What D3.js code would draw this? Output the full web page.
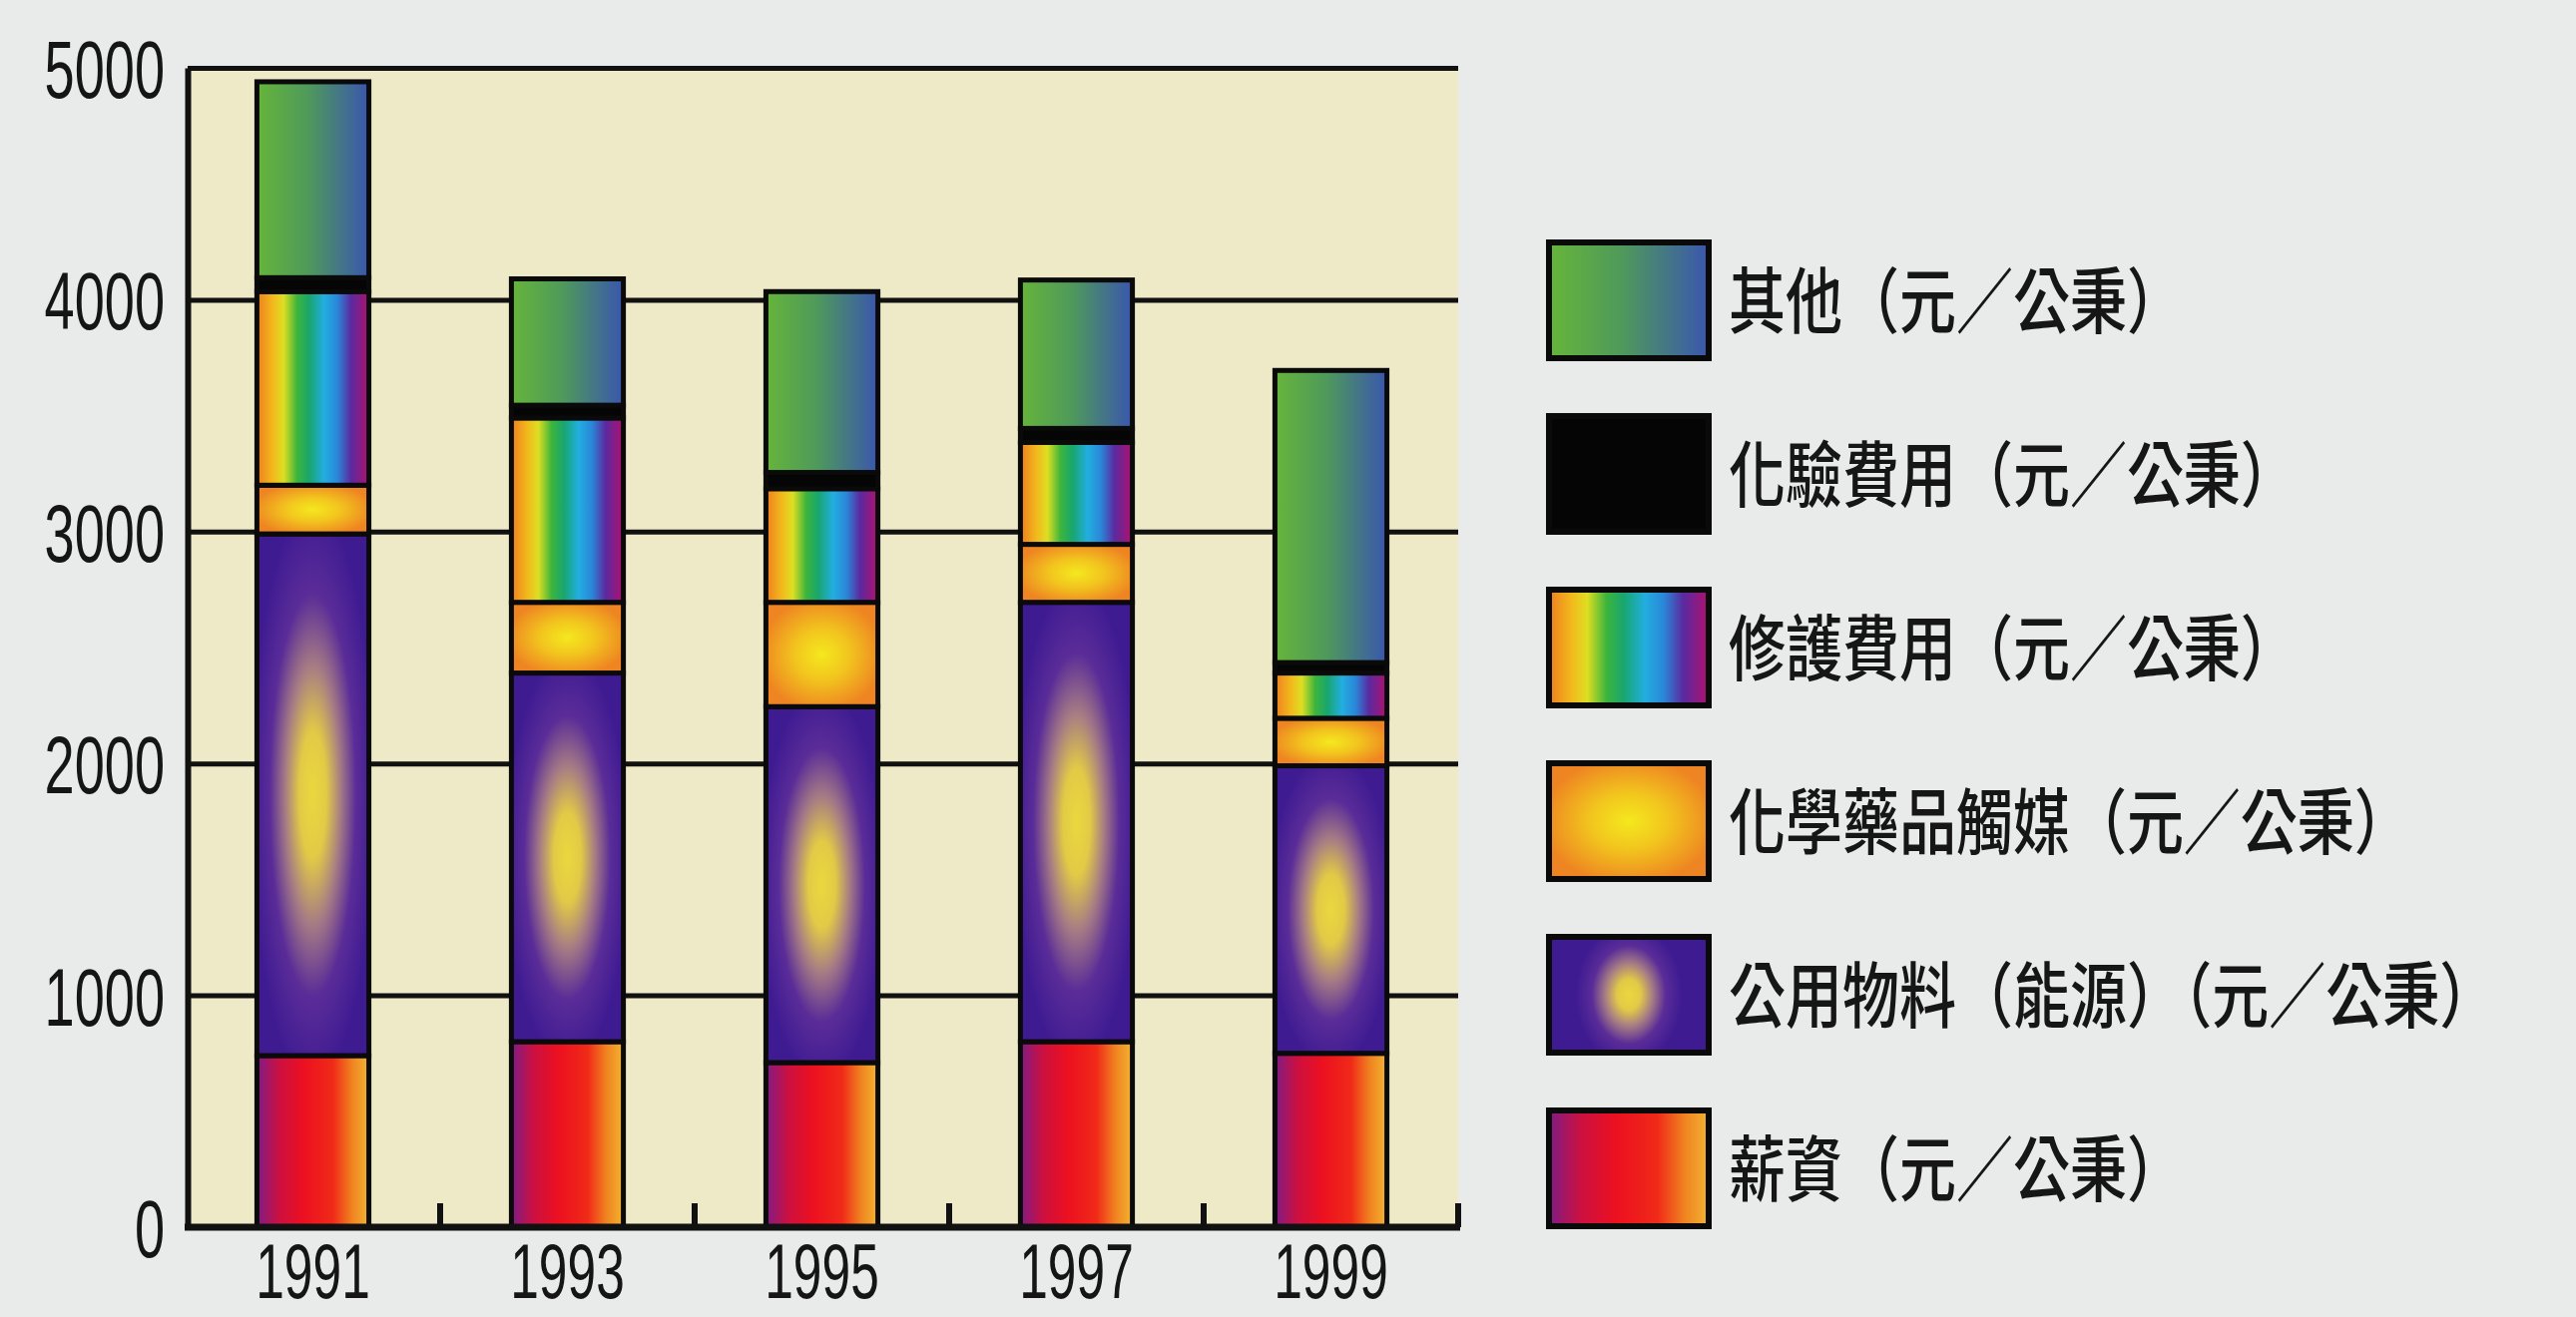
<!DOCTYPE html>
<html>
<head>
<meta charset="utf-8">
<script src="https://cdn.jsdelivr.net/npm/d3@7"></script>
<style>
  html, body { margin: 0; padding: 0; background: #e9ebeb; }
  svg { display: block; }
</style>
</head>
<body>
<div id="container"></div>
<script>
'use strict'
// data (元/公秉)
const years = ["1991", "1993", "1995", "1997", "1999"];
const keys = ["salary", "utility", "chem", "repair", "lab", "other"];
const labels = {
  salary:  "薪資（元／公秉）",
  utility: "公用物料（能源）（元／公秉）",
  chem:    "化學藥品觸媒（元／公秉）",
  repair:  "修護費用（元／公秉）",
  lab:     "化驗費用（元／公秉）",
  other:   "其他（元／公秉）"
};
const salary  = [740, 800, 710, 800, 750];
const utility = [2250, 1590, 1535, 1895, 1240];
const chem    = [210, 305, 450, 250, 205];
const repair  = [835, 795, 490, 440, 195];
const lab     = [60, 55, 70, 60, 45];
const other   = [845, 545, 780, 640, 1260];
const yTicks  = [0, 1000, 2000, 3000, 4000, 5000];

const values = { salary, utility, chem, repair, lab, other };
const table = years.map((y, i) => {
  const row = { year: y };
  keys.forEach(k => row[k] = values[k][i]);
  return row;
});

const w = 2581, h = 1320;
const pLeft = 188, pRight = 1461, pTop = 68, pBottom = 1230;

const svg = d3.select("#container").append("svg")
  .attr("width", w).attr("height", h);

// gradients
const defs = svg.append("defs");
function linear(id, stops) {
  const g = defs.append("linearGradient").attr("id", id)
    .attr("x1", "0%").attr("x2", "100%").attr("y1", "0%").attr("y2", "0%");
  stops.forEach(s => g.append("stop").attr("offset", s[0]).attr("stop-color", s[1]));
}
function radial(id, stops, tf) {
  const g = defs.append("radialGradient").attr("id", id)
    .attr("cx", "50%").attr("cy", "50%").attr("r", "55%");
  if (tf) g.attr("gradientTransform", tf);
  stops.forEach(s => g.append("stop").attr("offset", s[0]).attr("stop-color", s[1]));
}
const utilStops = [[0, "#ead83e"], [0.22, "#e2ca46"], [0.45, "#a67c84"], [0.7, "#5a2c98"], [1, "#3f1b92"]];
linear("g-other", [[0, "#66b53a"], [0.45, "#4f9a5a"], [1, "#3a56ae"]]);
linear("g-repair", [[0, "#ee7e20"], [0.14, "#f2b81c"], [0.24, "#dede22"], [0.36, "#3cb43c"],
                    [0.47, "#18a670"], [0.6, "#22aee0"], [0.72, "#2a86d8"], [0.84, "#5a2aa0"], [1, "#b0106e"]]);
radial("g-chem", [[0, "#f4e81e"], [0.45, "#f2c41e"], [1, "#ee8422"]]);
radial("g-utility", utilStops);
radial("g-utility-lg", utilStops, "translate(0.5,0.5) scale(0.6,1.1) translate(-0.5,-0.5)");
linear("g-salary", [[0, "#7e1c86"], [0.2, "#cc1040"], [0.42, "#ec1020"], [0.68, "#f02a18"], [0.85, "#f08420"], [1, "#f2b432"]]);
const fills = {
  salary: "url(#g-salary)", utility: "url(#g-utility)", chem: "url(#g-chem)",
  repair: "url(#g-repair)", lab: "#050505", other: "url(#g-other)"
};

// scales
const x = d3.scaleBand().domain(years).range([186, 1461]).paddingInner(0.56).paddingOuter(0.28);
const y = d3.scaleLinear().domain([0, 5000]).range([pBottom, pTop]);

// plot background
svg.append("rect").attr("x", pLeft).attr("y", pTop)
  .attr("width", pRight - pLeft).attr("height", pBottom - pTop).attr("fill", "#eee9c6");

// gridlines + y labels
const sx = 0.66;
const yAxis = svg.append("g").attr("transform", "translate(" + pLeft + ",0)")
  .call(d3.axisLeft(y).tickValues(yTicks).tickFormat(d3.format("d"))
    .tickSize(-(pRight - pLeft)).tickSizeOuter(0).tickPadding(23));
yAxis.selectAll("line").attr("stroke", "#111").attr("stroke-width", 5);
yAxis.select(".domain").attr("stroke", "#111").attr("stroke-width", 6);
yAxis.selectAll("text")
  .attr("x", -23 / sx).attr("dy", "0.36em")
  .attr("transform", "scale(" + sx + ",1)")
  .style("font-family", "'Liberation Sans', Arial, sans-serif")
  .style("font-size", "82px").attr("fill", "#151515");

// stacked bars
const stacked = d3.stack().keys(keys)(table);
svg.append("g").selectAll("g")
  .data(stacked).enter().append("g")
  .attr("fill", d => fills[d.key])
  .selectAll("rect")
  .data(d => d).enter().append("rect")
  .attr("x", d => x(d.data.year))
  .attr("width", x.bandwidth())
  .attr("y", d => y(d[1]))
  .attr("height", d => y(d[0]) - y(d[1]))
  .attr("stroke", "#0a0a0a").attr("stroke-width", 5);

// bottom axis with year labels
const xAxis = svg.append("g").attr("transform", "translate(0," + pBottom + ")")
  .call(d3.axisBottom(x).tickSize(0).tickSizeOuter(0).tickPadding(16));
xAxis.select(".domain").remove();
xAxis.selectAll("text")
  .attr("transform", "scale(" + sx + ",1)")
  .style("font-family", "'Liberation Sans', Arial, sans-serif")
  .style("font-size", "78px").attr("fill", "#151515");

svg.append("line").attr("x1", pLeft - 3).attr("x2", pRight + 2)
  .attr("y1", pBottom).attr("y2", pBottom)
  .attr("stroke", "#111").attr("stroke-width", 7);

// small ticks between the bars
const gap = x.step() * x.paddingInner() / 2;
svg.append("g").selectAll("line")
  .data(years).enter().append("line")
  .attr("x1", d => x(d) + x.bandwidth() + gap)
  .attr("x2", d => x(d) + x.bandwidth() + gap)
  .attr("y1", pBottom).attr("y2", pBottom - 24)
  .attr("stroke", "#111").attr("stroke-width", 6);

// legend
const legendKeys = keys.slice().reverse();
const lg = svg.append("g").selectAll("g")
  .data(legendKeys).enter().append("g")
  .attr("transform", (d, i) => "translate(1552," + (243 + i * 174) + ")");
lg.append("rect").attr("width", 160).attr("height", 116)
  .attr("fill", d => d === "utility" ? "url(#g-utility-lg)" : fills[d])
  .attr("stroke", "#0a0a0a").attr("stroke-width", 6);
lg.append("text")
  .attr("transform", "translate(180,58) scale(1,1.25)")
  .attr("dy", "0.38em")
  .style("font-family", "'Noto Sans CJK TC', 'Noto Sans CJK SC', sans-serif")
  .style("font-size", "57px").style("font-weight", "500")
  .attr("fill", "#161616")
  .text(d => labels[d]);
</script>
</body>
</html>
